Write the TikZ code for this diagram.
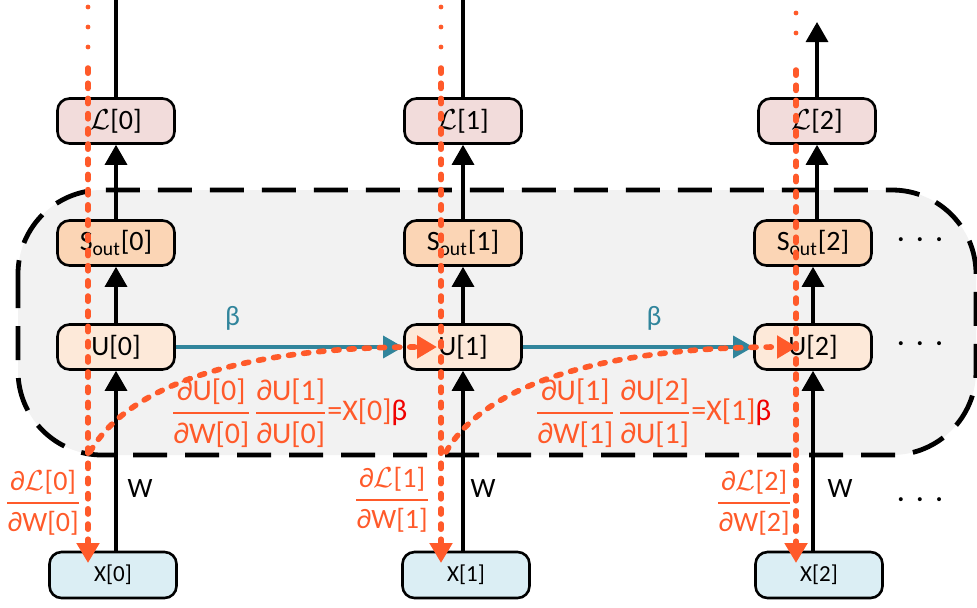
\documentclass[tikz,border=0pt]{standalone}
\usepackage{amsmath}
\usepackage{fontspec}
\setmainfont{Carlito}
\usetikzlibrary{arrows.meta,positioning}

\definecolor{lossfill}{HTML}{F2DCDB}
\definecolor{soutfill}{HTML}{FBD5B5}
\definecolor{ufill}{HTML}{FDE9D9}
\definecolor{xfill}{HTML}{DBEEF4}
\definecolor{bgfill}{HTML}{F2F2F2}
\definecolor{gradc}{HTML}{FF5A2A}
\definecolor{betablue}{HTML}{31859C}
\definecolor{betared}{HTML}{F00000}

\newcommand{\pd}[2]{$\genfrac{}{}{1.2pt}{0}{\text{#1}}{\text{#2}}$}
\newcommand{\more}{·\hspace{6pt}·\hspace{6pt}·}

\tikzset{
  blk/.style={draw,line width=1.3pt,rounded corners=6pt,minimum width=58.5pt,
    minimum height=22.5pt,inner sep=0pt,font=\fontsize{14}{16}\selectfont},
  xblk/.style={blk,fill=xfill,minimum width=63.5pt,minimum height=23pt,
    font=\fontsize{11.5}{13}\selectfont},
  fwd/.style={line width=1.6pt,-{Triangle[length=10pt,width=11pt]}},
  gradtext/.style={text=gradc,font=\fontsize{14}{16}\selectfont,inner sep=0pt},
  graddots/.style={gradc,line width=2.4pt,line cap=round,dash pattern=on 0pt off 10pt},
  graddash/.style={gradc,line width=2.8pt,line cap=round,dash pattern=on 2.6pt off 5pt,
    -{Triangle[length=10pt,width=11pt]}}
}

\begin{document}
\begin{tikzpicture}[x=0.5pt,y=-0.5pt]
  \useasboundingbox (0,0) rectangle (977,607);
  \fontsize{14}{16}\selectfont
  % recurrent part
  \draw[line width=2.4pt,dash pattern=on 17pt off 9pt,fill=bgfill,rounded corners=42pt]
    (18,190) rectangle (976,455);

  \node[blk,fill=lossfill] (L0) at (116,121) {$\mathcal{L}$[0]};
  \node[blk,fill=lossfill] (L1) at (463,121) {$\mathcal{L}$[1]};
  \node[blk,fill=lossfill] (L2) at (817,121) {$\mathcal{L}$[2]};
  \node[blk,fill=soutfill] (S0) at (116,243) {S\textsubscript{out}[0]};
  \node[blk,fill=soutfill] (S1) at (463,243) {S\textsubscript{out}[1]};
  \node[blk,fill=soutfill] (S2) at (813,243) {S\textsubscript{out}[2]};
  \node[blk,fill=ufill] (U0) at (116,347) {U[0]};
  \node[blk,fill=ufill] (U1) at (463,347) {U[1]};
  \node[blk,fill=ufill] (U2) at (813,347) {U[2]};
  \node[xblk] (X0) at (113,575) {X[0]};
  \node[xblk] (X1) at (466,575) {X[1]};
  \node[xblk] (X2) at (819,575) {X[2]};

  \coordinate (T0) at (116,0);
  \coordinate (T1) at (463,0);
  \coordinate (T2) at (817,22);

  % forward pass
  \draw[fwd] (X0.north -| U0) -- (U0.south);
  \draw[fwd] (X1.north -| U1) -- (U1.south);
  \draw[fwd] (X2.north -| U2) -- (U2.south);
  \draw[fwd] (U0) -- (S0);
  \draw[fwd] (U1) -- (S1);
  \draw[fwd] (U2) -- (S2);
  \draw[fwd] (S0) -- (L0);
  \draw[fwd] (S1) -- (L1);
  \draw[fwd] (S2.north -| L2) -- (L2);
  \draw[line width=1.6pt] (L0) -- (T0);
  \draw[line width=1.6pt] (L1) -- (T1);
  \draw[fwd] (L2) -- (T2);
  \draw[fwd,betablue] (U0) -- node[pos=0.25,above=3pt] {β} (U1);
  \draw[fwd,betablue] (U1) -- node[pos=0.57,above=3pt] {β} (U2);

  \node (W0) at (140,488) {W};
  \node (W1) at (483,488) {W};
  \node (W2) at (840,488) {W};
  \node (M0) at (920,243) {\more};
  \node (M1) at (920,347) {\more};
  \node (M2) at (920,503) {\more};

  % gradients
  \coordinate (R0a) at (88,7);   \coordinate (R0b) at (88,50);
  \coordinate (R0c) at (88,68);  \coordinate (R0d) at (88,563);
  \coordinate (R1a) at (441,7);  \coordinate (R1b) at (441,50);
  \coordinate (R1c) at (441,68); \coordinate (R1d) at (441,563);
  \coordinate (R2a) at (796,13); \coordinate (R2b) at (796,53);
  \coordinate (R2c) at (796,70); \coordinate (R2d) at (796,563);
  \draw[graddots] (R0a) -- (R0b);
  \draw[graddots] (R1a) -- (R1b);
  \draw[graddots] (R2a) -- (R2b);
  \draw[graddash] (R0c) -- (R0d);
  \draw[graddash] (R1c) -- (R1d);
  \draw[graddash] (R2c) -- (R2d);

  \coordinate (G0) at (90,452);  \coordinate (G0e) at (437,347);
  \coordinate (G1) at (446,452); \coordinate (G1e) at (797,347);
  \draw[graddash] (G0) .. controls +(40,-70) and +(-187,0) .. (G0e);
  \draw[graddash] (G1) .. controls +(40,-70) and +(-187,0) .. (G1e);

  \node[gradtext] (D0) at (43,503) {\pd{∂$\mathcal{L}$[0]}{∂W[0]}};
  \node[gradtext] (D1) at (392,500) {\pd{∂$\mathcal{L}$[1]}{∂W[1]}};
  \node[gradtext] (D2) at (754,503) {\pd{∂$\mathcal{L}$[2]}{∂W[2]}};
  \node[gradtext,font=\fontsize{15}{17}\selectfont] (C0) at (289,413)
    {\pd{∂U[0]}{∂W[0]}\hspace{1pt}\pd{∂U[1]}{∂U[0]}=X[0]\textcolor{betared}{β}};
  \node[gradtext,font=\fontsize{15}{17}\selectfont] (C1) at (653,413)
    {\pd{∂U[1]}{∂W[1]}\hspace{1pt}\pd{∂U[2]}{∂U[1]}=X[1]\textcolor{betared}{β}};
\end{tikzpicture}
\end{document}
